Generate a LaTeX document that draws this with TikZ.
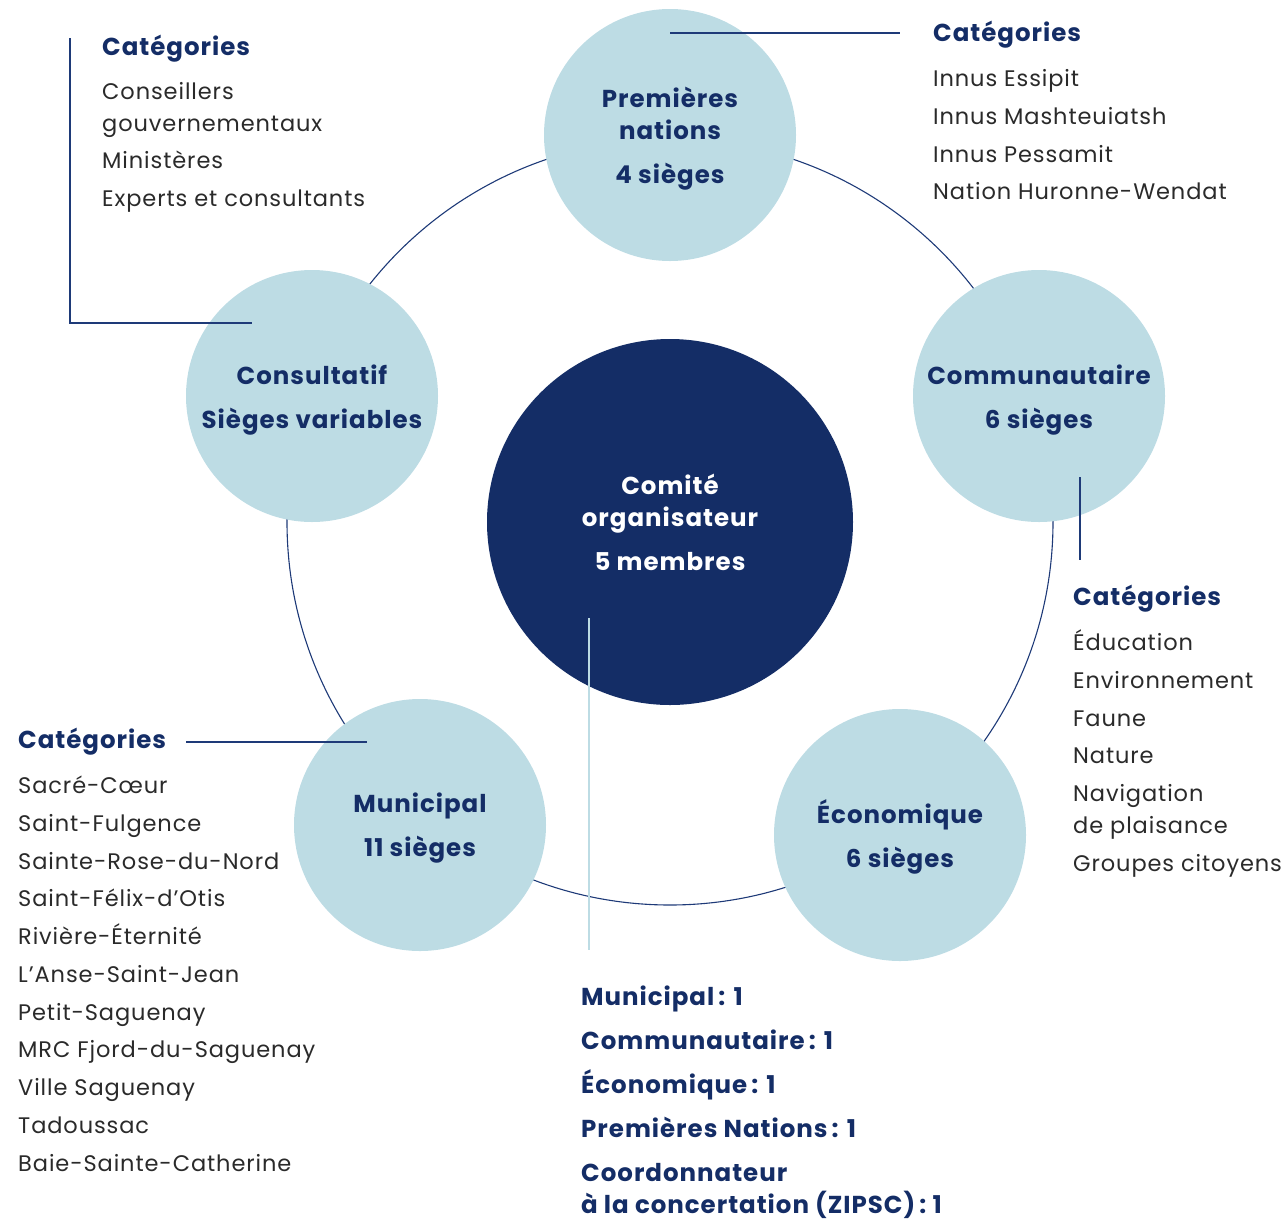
\documentclass[tikz,border=0pt]{standalone}
\usepackage{fontspec}
\setmainfont{Poppins}[LetterSpace=4]
\definecolor{navy}{HTML}{142D66}
\definecolor{lineblue}{HTML}{1E3A78}
\definecolor{lightc}{HTML}{BDDCE4}
\definecolor{bodytxt}{HTML}{2A2A2A}
\begin{document}
\begin{tikzpicture}[x=1pt,y=-1pt,
  sat/.style={circle, fill=lightc, minimum size=252pt, inner sep=0pt},
  ttl/.style={font=\bfseries\fontsize{24.5}{28}\selectfont, text=navy, anchor=base, inner sep=0pt},
  wttl/.style={ttl, text=white},
  cat/.style={font=\bfseries\fontsize{24.5}{28}\selectfont, text=navy, anchor=base west, inner sep=0pt},
  item/.style={font=\fontsize{22.5}{26}\selectfont, text=bodytxt, anchor=base west, inner sep=0pt},
  lead/.style={draw=lineblue, line width=1.1pt},
  ring/.style={draw=lineblue, line width=1.1pt}]
\useasboundingbox (0,0) rectangle (1283,1219);
% centre
\node[circle, fill=navy, minimum size=366pt, inner sep=0pt] (ctr) at (670,522) {};
\draw[ring] (ctr.center) circle[radius=383];
% satellites
\node[sat] (pn) at (670,135) {};
\node[sat] (cons) at (312,396) {};
\node[sat] (comm) at (1039,396) {};
\node[sat] (mun) at (420,825) {};
\node[sat] (eco) at (900,835) {};
% circle texts
\node[wttl] (t1) at (670,494) {Comité};
\node[wttl] (t2) at (670,526) {organisateur};
\node[wttl] (t3) at (670,570) {5 membres};
\node[ttl] (p1) at (670,107) {Premières};
\node[ttl] (p2) at (670,139) {nations};
\node[ttl] (p3) at (670,183) {4 sièges};
\node[ttl] (c1) at (312,384) {Consultatif};
\node[ttl] (c2) at (312,428) {Sièges variables};
\node[ttl] (m1) at (1039,384) {Communautaire};
\node[ttl] (m2) at (1039,428) {6 sièges};
\node[ttl] (u1) at (420,812) {Municipal};
\node[ttl] (u2) at (420,856) {11 sièges};
\node[ttl] (e1) at (900,823) {Économique};
\node[ttl] (e2) at (900,867) {6 sièges};
% leader lines
\coordinate (pnA) at (670,33);
\coordinate (pnB) at (900,33);
\draw[lead] (pnA) -- (pnB);
\coordinate (coA) at (70,38);
\coordinate (coB) at (70,323);
\coordinate (coC) at (252,323);
\draw[lead] (coA) -- (coB) -- (coC);
\coordinate (cmA) at (1080,477);
\coordinate (cmB) at (1080,560);
\draw[lead] (cmA) -- (cmB);
\coordinate (muA) at (186,742);
\coordinate (muB) at (367,742);
\draw[lead] (muA) -- (muB);
\coordinate (ceA) at (589,618);
\coordinate (ceB) at (589,950);
\draw[draw=lightc, line width=1.1pt] (ceA) -- (ceB);
% top-left list
\node[cat] (l0) at (102,55) {Catégories};
\node[item] (l1) at (102,99) {Conseillers};
\node[item] (l2) at (102,131) {gouvernementaux};
\node[item] (l3) at (102,168) {Ministères};
\node[item] (l4) at (102,206) {Experts et consultants};
% top-right list
\node[cat] (r0) at (933,41) {Catégories};
\node[item] (r1) at (933,86) {Innus Essipit};
\node[item] (r2) at (933,124) {Innus Mashteuiatsh};
\node[item] (r3) at (933,162) {Innus Pessamit};
\node[item] (r4) at (933,199) {Nation Huronne-Wendat};
% right list
\node[cat] (q0) at (1073,605) {Catégories};
\node[item] (q1) at (1073,650) {Éducation};
\node[item] (q2) at (1073,688) {Environnement};
\node[item] (q3) at (1073,726) {Faune};
\node[item] (q4) at (1073,763) {Nature};
\node[item] (q5) at (1073,801) {Navigation};
\node[item] (q6) at (1073,833) {de plaisance};
\node[item] (q7) at (1073,871) {Groupes citoyens};
% bottom-left list
\node[cat] (b0) at (18,748) {Catégories};
\node[item] (b1) at (18,793) {Sacré-Cœur};
\node[item] (b2) at (18,831) {Saint-Fulgence};
\node[item] (b3) at (18,869) {Sainte-Rose-du-Nord};
\node[item] (b4) at (18,906) {Saint-Félix-d’Otis};
\node[item] (b5) at (18,944) {Rivière-Éternité};
\node[item] (b6) at (18,982) {L’Anse-Saint-Jean};
\node[item] (b7) at (18,1020) {Petit-Saguenay};
\node[item] (b8) at (18,1057) {MRC Fjord-du-Saguenay};
\node[item] (b9) at (18,1095) {Ville Saguenay};
\node[item] (b10) at (18,1133) {Tadoussac};
\node[item] (b11) at (18,1171) {Baie-Sainte-Catherine};
% bottom list
\node[cat] (s1) at (581,1005) {Municipal\,: 1};
\node[cat] (s2) at (581,1049) {Communautaire\,: 1};
\node[cat] (s3) at (581,1093) {Économique\,: 1};
\node[cat] (s4) at (581,1137) {Premières Nations\,: 1};
\node[cat] (s5) at (581,1181) {Coordonnateur};
\node[cat] (s6) at (581,1213) {à la concertation (ZIPSC)\,: 1};
\end{tikzpicture}
\end{document}
